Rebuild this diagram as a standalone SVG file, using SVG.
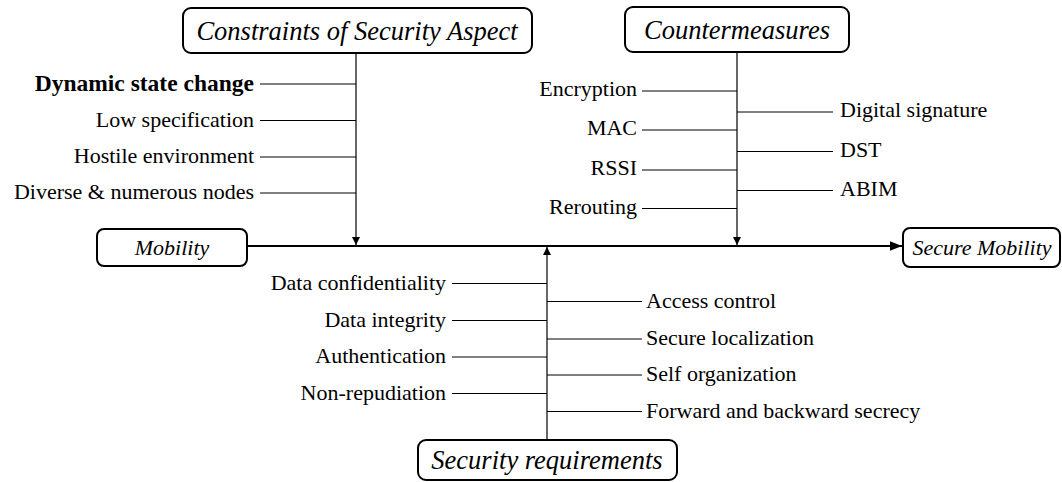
<svg xmlns="http://www.w3.org/2000/svg" width="1062" height="482" viewBox="0 0 1062 482">
<defs>
<style>
.box{fill:#fff;stroke:#000;stroke-width:2}
.title{font-family:'Liberation Serif','Times New Roman',serif;font-style:italic;font-size:26.5px;fill:#000;text-anchor:middle}
.small{font-size:22px}
.lbl{font-family:'Liberation Serif','Times New Roman',serif;font-size:22px;fill:#000}
.end{text-anchor:end}
.bold{font-weight:bold;font-size:23.5px}
.br{stroke:#000;stroke-width:1;fill:none}
.trunk{stroke:#000;stroke-width:1.2;fill:none}
.main{stroke:#000;stroke-width:2;fill:none}
</style>
<marker id="ah" viewBox="0 0 10 10" refX="10" refY="5" markerWidth="8" markerHeight="8" markerUnits="userSpaceOnUse" orient="auto">
<path d="M0,0 L10,5 L0,10 z" fill="#000"/>
</marker>
<marker id="ahm" viewBox="0 0 10 10" refX="10" refY="5" markerWidth="6" markerHeight="6" markerUnits="strokeWidth" orient="auto">
<path d="M0,1 L10,5 L0,9 z" fill="#000"/>
</marker>
</defs>

<g id="connectors">
<line class="main" x1="247" y1="246" x2="902" y2="246" marker-end="url(#ahm)"/>
<line class="trunk" x1="356" y1="53" x2="356" y2="245" marker-end="url(#ah)"/>
<line class="trunk" x1="737" y1="52" x2="737" y2="245" marker-end="url(#ah)"/>
<line class="trunk" x1="547" y1="440" x2="547" y2="247" marker-end="url(#ah)"/>
<line class="br" x1="260" y1="84" x2="356" y2="84"/>
<line class="br" x1="260" y1="120.5" x2="356" y2="120.5"/>
<line class="br" x1="260" y1="157" x2="356" y2="157"/>
<line class="br" x1="260" y1="193" x2="356" y2="193"/>
<line class="br" x1="642" y1="91" x2="737" y2="91"/>
<line class="br" x1="737" y1="112" x2="833" y2="112"/>
<line class="br" x1="642" y1="130" x2="737" y2="130"/>
<line class="br" x1="737" y1="151.5" x2="833" y2="151.5"/>
<line class="br" x1="642" y1="170" x2="737" y2="170"/>
<line class="br" x1="737" y1="190.5" x2="833" y2="190.5"/>
<line class="br" x1="642" y1="208.5" x2="737" y2="208.5"/>
<line class="br" x1="452" y1="283.5" x2="547" y2="283.5"/>
<line class="br" x1="547" y1="301.5" x2="642" y2="301.5"/>
<line class="br" x1="452" y1="320.5" x2="547" y2="320.5"/>
<line class="br" x1="547" y1="339" x2="642" y2="339"/>
<line class="br" x1="452" y1="357" x2="547" y2="357"/>
<line class="br" x1="547" y1="375" x2="642" y2="375"/>
<line class="br" x1="452" y1="393.5" x2="547" y2="393.5"/>
<line class="br" x1="547" y1="411.5" x2="642" y2="411.5"/>
</g>

<g id="constraints">
<rect class="box" x="183" y="8" width="349" height="45" rx="8"/>
<text class="title" x="357" y="39.5">Constraints of Security Aspect</text>
</g>
<g id="countermeasures">
<rect class="box" x="625" y="7" width="224" height="45" rx="8"/>
<text class="title" x="737" y="38.5">Countermeasures</text>
</g>
<g id="mobility">
<rect class="box" x="97" y="229" width="150" height="37" rx="7"/>
<text class="title small" x="172" y="255">Mobility</text>
</g>
<g id="secure-mobility">
<rect class="box" x="903" y="228" width="157" height="39" rx="7"/>
<text class="title small" x="982" y="255">Secure Mobility</text>
</g>
<g id="security-requirements">
<rect class="box" x="418" y="440" width="259" height="40" rx="8"/>
<text class="title" x="547" y="469">Security requirements</text>
</g>

<g id="constraint-labels">
<text class="lbl end bold" x="254" y="90.5">Dynamic state change</text>
<text class="lbl end" x="254" y="126.5">Low specification</text>
<text class="lbl end" x="254" y="163">Hostile environment</text>
<text class="lbl end" x="254" y="199">Diverse &amp; numerous nodes</text>
</g>
<g id="countermeasure-labels">
<text class="lbl end" x="637" y="96">Encryption</text>
<text class="lbl" x="840" y="117">Digital signature</text>
<text class="lbl end" x="637" y="135">MAC</text>
<text class="lbl" x="840" y="157">DST</text>
<text class="lbl end" x="637" y="175">RSSI</text>
<text class="lbl" x="840" y="196">ABIM</text>
<text class="lbl end" x="637" y="214">Rerouting</text>
</g>
<g id="requirement-labels">
<text class="lbl end" x="446" y="289.5">Data confidentiality</text>
<text class="lbl" x="646" y="307.5">Access control</text>
<text class="lbl end" x="446" y="326.5">Data integrity</text>
<text class="lbl" x="646" y="345">Secure localization</text>
<text class="lbl end" x="446" y="363">Authentication</text>
<text class="lbl" x="646" y="381">Self organization</text>
<text class="lbl end" x="446" y="399.5">Non-repudiation</text>
<text class="lbl" x="646" y="417.5">Forward and backward secrecy</text>
</g>
</svg>
